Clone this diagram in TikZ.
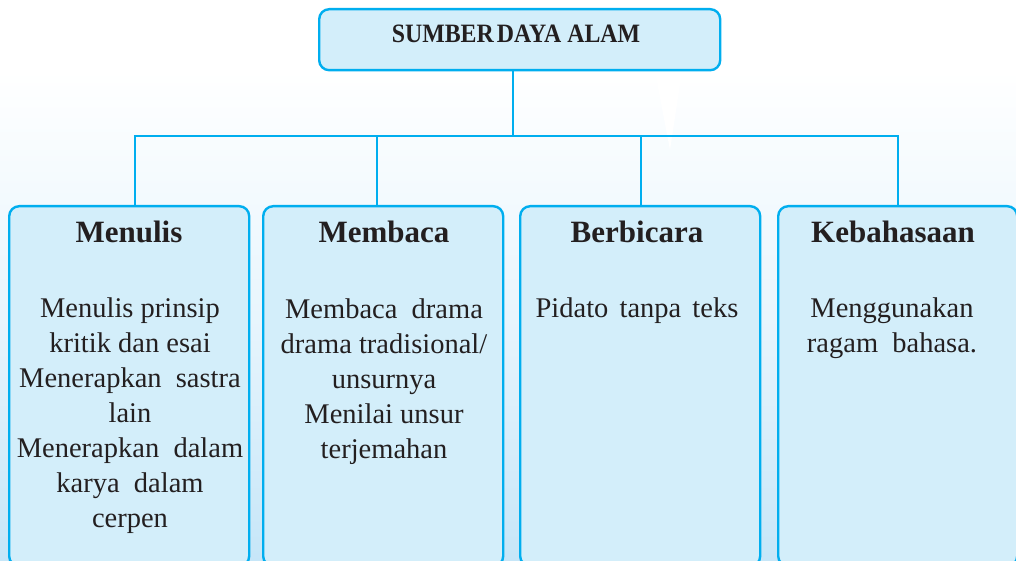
\documentclass[tikz,border=0pt]{standalone}
\usepackage{fontspec}
\setmainfont{Liberation Serif}
\newfontfamily\titlefont[FakeStretch=0.9]{Liberation Serif}
\definecolor{cyanline}{HTML}{00AEEF}
\definecolor{boxfill}{HTML}{D3EEFA}
\definecolor{bgblue}{HTML}{C6E6F8}
\definecolor{bgmid}{HTML}{E8F5FD}
\definecolor{inkc}{HTML}{231F20}
\tikzset{
  box/.style={draw=cyanline, fill=boxfill, line width=2.4pt, rounded corners=10pt, inner sep=0pt},
  conn/.style={draw=cyanline, line width=2.4pt},
  head/.style={font=\bfseries\fontsize{31}{35}\selectfont, text=inkc, inner sep=0pt, anchor=base},
  body/.style={font=\fontsize{28.5}{35}\selectfont, text=inkc, inner sep=0pt, align=center, anchor=base},
  ttl/.style={font=\titlefont\bfseries\fontsize{26.5}{30}\selectfont, text=inkc, inner sep=0pt, anchor=base}
}
\begin{document}
\begin{tikzpicture}[x=1pt,y=-1pt]
\useasboundingbox (0,0) rectangle (1016,561);
% background
\fill[white] (0,0) rectangle (1016,70);
\shade[top color=white, bottom color=bgblue, middle color=bgmid] (0,70) rectangle (1016,561);
\fill[white] (655,72) -- (682,72) -- (670,150) -- cycle;
% top box
\node[box, minimum width=401, minimum height=61, anchor=north west] (top) at (318,8) {};
\node[ttl] (toptxt) at (516,43) {SUMBER\hspace{3pt}DAYA ALAM};
% boxes
\node[box, minimum width=240, minimum height=360, anchor=north west] (b1) at (8,205) {};
\node[box, minimum width=240, minimum height=360, anchor=north west] (b2) at (262,205) {};
\node[box, minimum width=240, minimum height=360, anchor=north west] (b3) at (519,205) {};
\node[box, minimum width=239, minimum height=360, anchor=north west] (b4) at (777,205) {};
% connectors
\coordinate (hub) at (513,136);
\coordinate (d1) at (135,136);
\coordinate (d2) at (377,136);
\coordinate (d3) at (641,136);
\coordinate (d4) at (898,136);
\draw[conn] (top.south -| hub) -- (hub);
\draw[conn] ([xshift=-1.2pt]d1) -- ([xshift=1.2pt]d4);
\draw[conn] (d1) -- (d1 |- b1.north);
\draw[conn] (d2) -- (d2 |- b2.north);
\draw[conn] (d3) -- (d3 |- b3.north);
\draw[conn] (d4) -- (d4 |- b4.north);
% texts (base anchor = baseline of last line)
\node[head] (h1) at (129,243) {Menulis};
\node[head] (h2) at (384,243) {Membaca};
\node[head] (h3) at (637,243) {Berbicara};
\node[head] (h4) at (893,243) {Kebahasaan};
\node[body] (t1) at (130,527) {Menulis prinsip\\kritik dan esai\\Menerapkan\ \ sastra\\lain\\Menerapkan\ \ dalam\\karya\ \ dalam\\cerpen};
\node[body] (t2) at (384,458) {Membaca\ \ drama\\drama tradisional/\\unsurnya\\Menilai unsur\\terjemahan};
\node[body] (t3) at (637,317) {Pidato\hspace{4pt} tanpa\hspace{4pt} teks};
\node[body] (t4) at (892,352) {Menggunakan\\ragam\ \ bahasa.};
\end{tikzpicture}
\end{document}
